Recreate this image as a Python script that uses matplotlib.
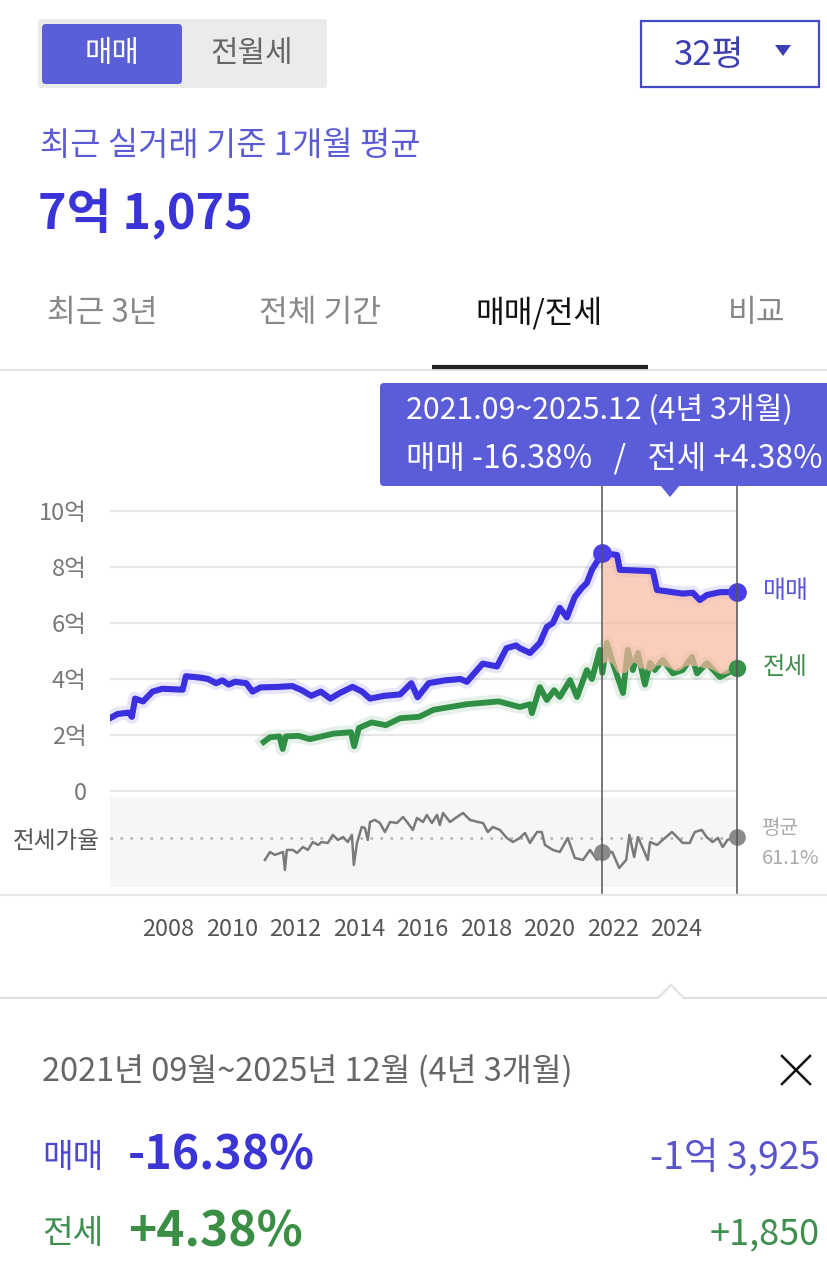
import numpy as np
import matplotlib
matplotlib.use("Agg")
import matplotlib.pyplot as plt
from matplotlib.patches import FancyBboxPatch, Polygon, Rectangle
from matplotlib import transforms

plt.rcParams['font.family'] = ['Noto Sans CJK KR', 'DejaVu Sans']

# ---------------- data ----------------
sale_t = [2006.16, 2006.40, 2006.75, 2006.85, 2006.95, 2007.20, 2007.50, 2007.80, 2008.45, 2008.55,
          2009.00, 2009.25, 2009.50, 2009.70, 2009.90, 2010.10, 2010.45, 2010.65, 2010.90, 2011.50,
          2011.90, 2012.20, 2012.50, 2012.80, 2013.10, 2013.40, 2013.80, 2014.10, 2014.35, 2014.80,
          2015.30, 2015.65, 2015.85, 2016.20, 2016.70, 2017.20, 2017.40, 2017.90, 2018.35, 2018.65,
          2018.95, 2019.07, 2019.39, 2019.70, 2019.92, 2020.11, 2020.33, 2020.55, 2020.80, 2021.02,
          2021.18, 2021.34, 2021.67, 2022.13, 2022.22, 2023.26, 2023.39, 2023.89, 2024.20, 2024.52,
          2024.74, 2024.96, 2025.37, 2025.91]
sale_v = [2.60, 2.75, 2.80, 2.65, 3.30, 3.20, 3.55, 3.65, 3.62, 4.10,
          4.05, 4.00, 3.85, 3.95, 3.80, 3.90, 3.85, 3.55, 3.70, 3.72,
          3.75, 3.60, 3.40, 3.55, 3.30, 3.50, 3.72, 3.55, 3.30, 3.40,
          3.45, 3.85, 3.35, 3.85, 3.95, 4.00, 3.90, 4.55, 4.45, 5.10,
          5.20, 5.10, 4.93, 5.29, 5.86, 6.00, 6.54, 6.20, 6.93, 7.25,
          7.43, 7.90, 8.50, 8.43, 7.90, 7.85, 7.18, 7.10, 7.05, 7.08,
          6.82, 7.00, 7.10, 7.11]

jeon_t = [2011.00, 2011.20, 2011.50, 2011.60, 2011.70, 2012.10, 2012.45, 2013.20, 2013.75, 2013.85,
          2014.00, 2014.40, 2014.85, 2015.30, 2015.90, 2016.35, 2017.40, 2018.40, 2019.07, 2019.39,
          2019.45, 2019.70, 2019.92, 2020.15, 2020.33, 2020.65, 2020.87, 2021.18, 2021.34, 2021.59,
          2021.67, 2021.81, 2022.00, 2022.32, 2022.47, 2022.63, 2022.79, 2023.01, 2023.17, 2023.32,
          2023.57, 2023.89, 2024.20, 2024.49, 2024.65, 2024.96, 2025.37, 2025.59, 2025.91]
jeon_v = [1.75, 1.92, 1.95, 1.50, 1.95, 1.97, 1.85, 2.05, 2.10, 1.60,
          2.25, 2.45, 2.35, 2.60, 2.65, 2.90, 3.10, 3.20, 3.00, 3.10,
          2.78, 3.71, 3.25, 3.60, 3.36, 3.96, 3.36, 4.32, 4.00, 5.04,
          4.22, 5.29, 4.57, 3.50, 5.04, 4.32, 4.93, 3.80, 4.57, 4.32,
          4.68, 4.20, 4.32, 4.79, 4.20, 4.57, 4.07, 4.20, 4.41]

ratio_t = [2011.04, 2011.20, 2011.35, 2011.61, 2011.67, 2011.73, 2011.92, 2012.05, 2012.24, 2012.39,
           2012.55, 2012.71, 2012.83, 2013.02, 2013.18, 2013.34, 2013.50, 2013.65, 2013.78, 2013.84,
           2013.94, 2014.09, 2014.19, 2014.28, 2014.35, 2014.50, 2014.66, 2014.82, 2014.98, 2015.20,
           2015.39, 2015.54, 2015.70, 2015.83, 2016.02, 2016.14, 2016.30, 2016.46, 2016.55, 2016.65,
           2016.87, 2017.09, 2017.28, 2017.50, 2017.75, 2017.91, 2018.06, 2018.22, 2018.44, 2018.66,
           2018.85, 2019.07, 2019.23, 2019.39, 2019.61, 2019.76, 2019.86, 2020.11, 2020.33, 2020.58,
           2020.80, 2021.06, 2021.28, 2021.50, 2021.67, 2021.98, 2022.20, 2022.42, 2022.52, 2022.67,
           2022.79, 2022.94, 2023.10, 2023.17, 2023.39, 2023.57, 2023.86, 2024.02, 2024.20, 2024.42,
           2024.58, 2024.80, 2024.95, 2025.14, 2025.31, 2025.46, 2025.61, 2025.91]
ratio_v = [43.1, 49.6, 47.2, 49.6, 34.9, 51.3, 51.3, 48.8, 53.7, 51.3,
           57.8, 55.4, 57.8, 57.0, 63.6, 59.5, 61.9, 57.8, 63.6, 39.0,
           57.0, 70.1, 69.3, 59.5, 74.2, 75.9, 73.4, 66.0, 74.2, 73.4,
           78.3, 73.4, 67.7, 77.5, 74.2, 80.0, 73.4, 80.0, 71.8, 81.6,
           74.2, 78.3, 81.6, 75.9, 74.2, 73.4, 66.0, 70.1, 67.7, 61.1,
           57.8, 61.1, 65.2, 57.0, 66.0, 66.0, 55.4, 51.3, 49.6, 61.1,
           44.7, 43.1, 51.3, 43.1, 49.7, 49.6, 36.5, 43.1, 63.6, 45.5,
           61.9, 52.9, 43.1, 57.8, 55.4, 59.5, 66.0, 61.9, 57.0, 57.0,
           66.0, 67.7, 61.9, 57.8, 61.1, 53.7, 59.5, 62.0]
ratio_avg = 61.1

y_ticks = [0, 2, 4, 6, 8, 10]
y_labels = ['0', '2억', '4억', '6억', '8억', '10억']
x_years = [2008, 2010, 2012, 2014, 2016, 2018, 2020, 2022, 2024]

sel_start, sel_end = 2021.67, 2025.91
period_text = '2021.09~2025.12 (4년 3개월)'
period_long = '2021년 09월~2025년 12월 (4년 3개월)'
sale_pct, jeon_pct = '-16.38%', '+4.38%'
sale_diff, jeon_diff = '-1억 3,925', '+1,850'
headline = '7억 1,075'

# ---------------- colors ----------------
BLUE = '#3a30e0'
BLUE_UI = '#5a5fd8'
GREEN = '#2f8f45'
GRAY_LINE = '#7a7a7a'

W, H = 827, 1267
fig = plt.figure(figsize=(W / 100, H / 100), dpi=100)
fig.patch.set_facecolor('white')

def fpos(x0, y0, x1, y1):
    return [x0 / W, 1 - y1 / H, (x1 - x0) / W, (y1 - y0) / H]

# background overlay (pixel coordinates)
bg = fig.add_axes([0, 0, 1, 1], zorder=0)
bg.set_xlim(0, W); bg.set_ylim(H, 0); bg.axis('off')

# segmented control
bg.add_patch(FancyBboxPatch((38, 19), 289, 69, boxstyle='round,pad=0,rounding_size=4',
                            fc='#ebebeb', ec='none'))
bg.add_patch(FancyBboxPatch((42, 24), 140, 60, boxstyle='round,pad=0,rounding_size=4',
                            fc=BLUE_UI, ec='none'))
bg.text(112, 53, '매매', color='white', fontsize=21.5, ha='center', va='center')
bg.text(252, 53, '전월세', color='#666666', fontsize=21.5, ha='center', va='center')
# size dropdown
bg.add_patch(Rectangle((641, 21), 178, 66, fc='white', ec='#4449c6', lw=1.6))
bg.text(709, 55, '32평', color='#3c3fb2', fontsize=25, ha='center', va='center')
bg.add_patch(Polygon([(775, 45), (791, 45), (783, 56)], closed=True, fc='#3c3fb2', ec='none'))

bg.text(40, 146, '최근 실거래 기준 1개월 평균', color='#5b5bd6', fontsize=23.7, ha='left', va='center')
bg.text(38, 214, headline, color='#3a33d8', fontsize=35, fontweight='bold', ha='left', va='center')

# tabs
for lbl, cx, col in [('최근 3년', 102, '#888888'), ('전체 기간', 320, '#888888'),
                     ('매매/전세', 539, '#111111'), ('비교', 757, '#888888')]:
    bg.text(cx, 313, lbl, color=col, fontsize=22.5, ha='center', va='center')
bg.plot([0, W], [370, 370], color='#e3e3e3', lw=1.5)
bg.plot([432, 648], [367, 367], color='#222222', lw=3, solid_capstyle='butt')

# separators
bg.plot([0, W], [895, 895], color='#e6e6e6', lw=1.5)
bg.plot([0, 658, 671, 684, W], [998, 998, 985, 998, 998], color='#e0e0e0', lw=1.5)

# bottom panel
bg.text(42, 1072, period_long, color='#666666', fontsize=23.4, ha='left', va='center')
bg.plot([782, 810], [1056, 1084], color='#111111', lw=1.8)
bg.plot([782, 810], [1084, 1056], color='#111111', lw=1.8)
bg.text(42, 1158, '매매', color='#4b47d0', fontsize=24, ha='left', va='center')
bg.text(128, 1156, sale_pct, color='#3b35d6', fontsize=33.5, fontweight='bold', ha='left', va='center')
bg.text(820, 1158, sale_diff, color='#5a55cc', fontsize=27, ha='right', va='center')
bg.text(42, 1234, '전세', color='#3f8f4f', fontsize=24, ha='left', va='center')
bg.text(128, 1232, jeon_pct, color='#3a8f45', fontsize=34.5, fontweight='bold', ha='left', va='center')
bg.text(820, 1234, jeon_diff, color='#3f8f4f', fontsize=26, ha='right', va='center')

# side labels
bg.text(763, 591, '매매', color='#5b55dd', fontsize=18, ha='left', va='center')
bg.text(763, 667, '전세', color='#3e8f4e', fontsize=17.5, ha='left', va='center')
bg.text(762, 829, '평균', color='#aaaaaa', fontsize=14.5, ha='left', va='center')
bg.text(762, 858, '61.1%', color='#aaaaaa', fontsize=14.5, ha='left', va='center')
bg.text(56, 842, '전세가율', color='#555555', fontsize=17, ha='center', va='center')

# ---------------- main chart ----------------
xlim = (2006.16, 2025.91)
ax = fig.add_axes(fpos(110, 486, 737, 797), zorder=2)
ax.set_xlim(*xlim)
ax.set_ylim(-0.214, 10.893)
ax.patch.set_alpha(0)
for s in ax.spines.values():
    s.set_visible(False)
for v in y_ticks:
    ax.axhline(v, color='#e6e6e6', lw=1.5, zorder=0)
ax.set_yticks(y_ticks)
ax.set_yticklabels(y_labels, color='#777777', fontsize=17)
ax.tick_params(axis='y', length=0, pad=17)
ax.set_xticks([])

tt = np.linspace(sel_start, sel_end, 600)
s_i = np.interp(tt, sale_t, sale_v)
j_i = np.interp(tt, jeon_t, jeon_v)
win = 40
j_pad = np.pad(j_i, win, mode='edge')
j_smooth = np.convolve(j_pad, np.ones(2 * win + 1) / (2 * win + 1), mode='same')[win:-win]

ax.plot(jeon_t, jeon_v, color=GREEN, lw=10, alpha=0.12, zorder=2, solid_joinstyle='round')
ax.plot(jeon_t, jeon_v, color=GREEN, lw=4.2, zorder=3, solid_joinstyle='round')
ax.fill_between(tt, j_smooth, s_i, color='#f9b8a0', alpha=0.7, lw=0, zorder=3.5)
ax.plot(sale_t, sale_v, color=BLUE, lw=10, alpha=0.12, zorder=2, solid_joinstyle='round')
ax.plot(sale_t, sale_v, color=BLUE, lw=4.4, zorder=4, solid_joinstyle='round')

ax.plot([sel_start, sel_end], [np.interp(sel_start, sale_t, sale_v), np.interp(sel_end, sale_t, sale_v)],
        'o', color='#4a3ee8', ms=12.5, zorder=6, clip_on=False)
ax.plot([sel_end], [np.interp(sel_end, jeon_t, jeon_v)], 'o', color='#35944a', ms=11.5, zorder=6, clip_on=False)

# ---------------- ratio panel ----------------
axr = fig.add_axes(fpos(110, 797, 737, 887), zorder=2)
axr.set_xlim(*xlim)
axr.set_ylim(20.9, 94.7)
axr.set_facecolor('#f6f6f6')
for s in axr.spines.values():
    s.set_visible(False)
axr.set_yticks([])
axr.axhline(ratio_avg, color='#b0b0b0', lw=1.8, ls=(0, (1, 3)), zorder=1)
axr.plot(ratio_t, ratio_v, color=GRAY_LINE, lw=1.8, zorder=3)
axr.plot([sel_start, sel_end], [np.interp(sel_start, ratio_t, ratio_v), np.interp(sel_end, ratio_t, ratio_v)],
         'o', color='#8a8a8a', ms=11, zorder=5, clip_on=False)
axr.set_xticks(x_years)
axr.set_xticklabels([str(y) for y in x_years], color='#555555', fontsize=17)
axr.tick_params(axis='x', length=0, pad=22)

# ---------------- overlay: selection lines + tooltip ----------------
top = fig.add_axes([0, 0, 1, 1], zorder=5)
top.set_xlim(0, W); top.set_ylim(H, 0); top.axis('off')
blend = transforms.blended_transform_factory(ax.transData, top.transData)
for t in (sel_start, sel_end):
    top.plot([t, t], [486, 893], color='#555555', lw=1.1, transform=blend, zorder=1)

top.add_patch(FancyBboxPatch((380, 383), 460, 103, boxstyle='round,pad=0,rounding_size=4',
                             fc='#5b5dd8', ec='none', zorder=2))
top.add_patch(Polygon([(660, 485), (680, 485), (670, 497)], closed=True, fc='#5b5dd8', ec='none', zorder=2))
top.text(406, 410, period_text, color='white', fontsize=21.8, ha='left', va='center', zorder=3)
top.text(406, 458, f'매매 {sale_pct}   /   전세 {jeon_pct}', color='white', fontsize=23,
         ha='left', va='center', zorder=3)

fig.savefig('out.png', dpi=100, facecolor='white')
